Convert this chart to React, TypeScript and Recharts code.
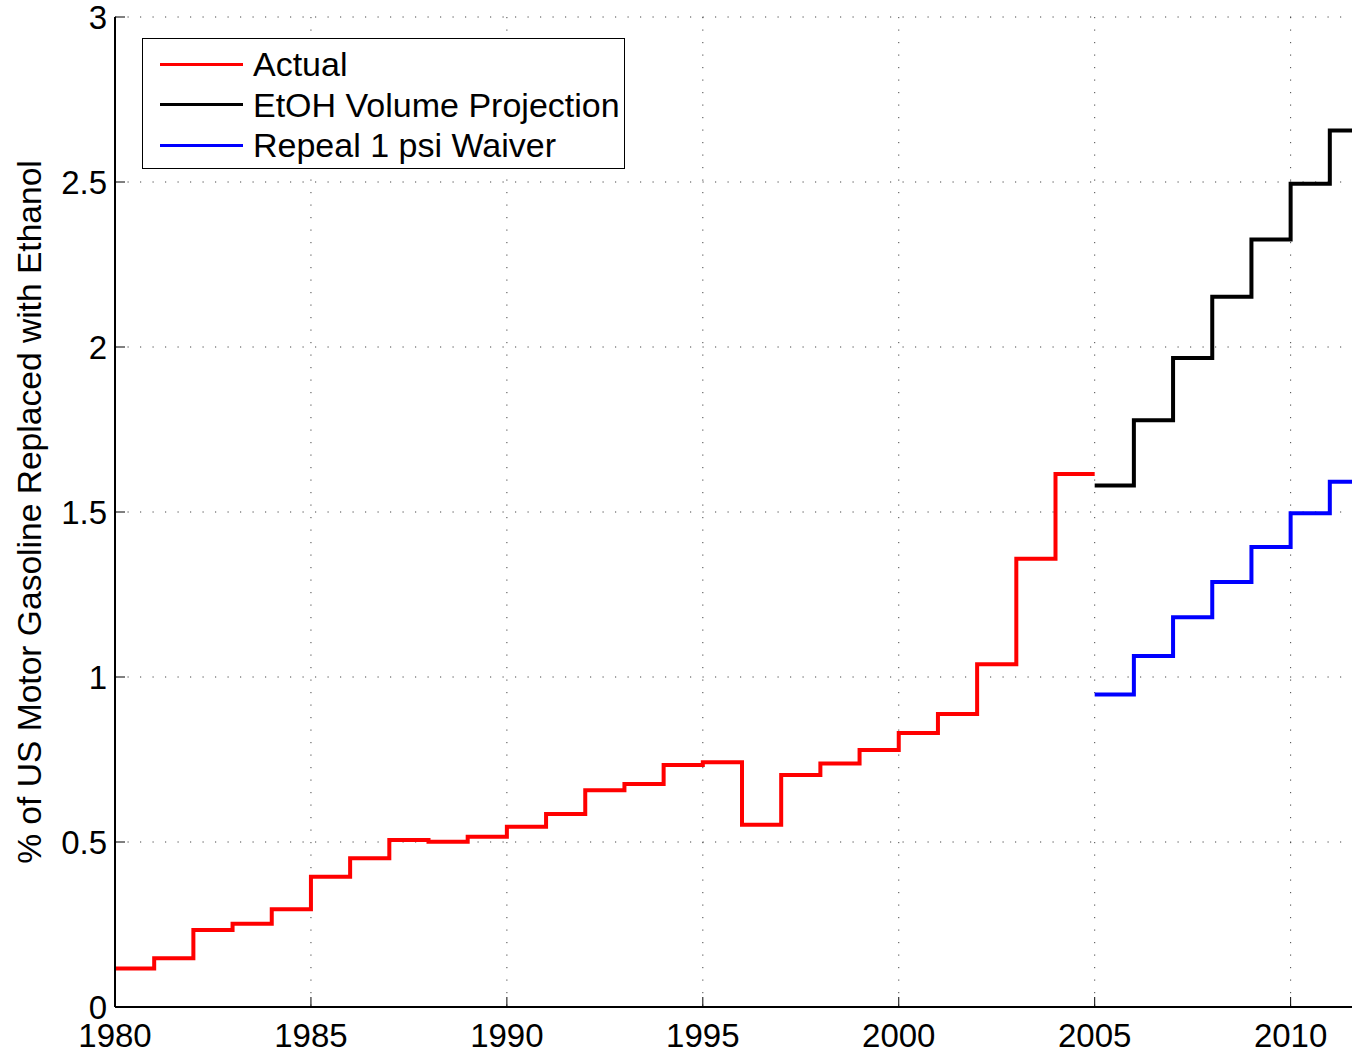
import React from 'react'
import { LineChart, Line, XAxis, YAxis, CartesianGrid, Legend } from 'recharts'

// ethanol share of US motor gasoline, percent
const actualYears = [
  1980, 1981, 1982, 1983, 1984, 1985, 1986, 1987, 1988, 1989, 1990, 1991, 1992,
  1993, 1994, 1995, 1996, 1997, 1998, 1999, 2000, 2001, 2002, 2003, 2004,
]
const actualValues = [
  0.117, 0.148, 0.233, 0.252, 0.296, 0.395, 0.451, 0.506, 0.501, 0.516, 0.546, 0.585, 0.657,
  0.676, 0.733, 0.742, 0.552, 0.703, 0.738, 0.779, 0.83, 0.888, 1.039, 1.358, 1.615,
]
const projectionYears = [2005, 2006, 2007, 2008, 2009, 2010, 2011]
const etohValues = [1.58, 1.778, 1.967, 2.152, 2.326, 2.495, 2.656]
const waiverValues = [0.947, 1.064, 1.181, 1.288, 1.394, 1.496, 1.592]

const xTicks = [1980, 1985, 1990, 1995, 2000, 2005, 2010]
const yTicks = [0, 0.5, 1, 1.5, 2, 2.5, 3]

const FONT = '"Liberation Sans", Arial, Helvetica, sans-serif'
const TICK_FS = 33
const LEGEND_FS = 34
const TITLE_FS = 33.6
const TICK_LEN = 10

// stairs: each value holds until the next year
function toSteps(years: number[], values: number[]) {
  const pts = years.map((x, i) => ({ x, y: values[i] }))
  pts.push({ x: years[years.length - 1] + 1, y: values[values.length - 1] })
  return pts
}

const actualData = toSteps(actualYears, actualValues)
const etohData = toSteps(projectionYears, etohValues)
const waiverData = toSteps(projectionYears, waiverValues)

const YTick = (props: any) => {
  const { x, y, payload } = props
  return (
    <g>
      <line x1={x + 8} x2={x + 8 + TICK_LEN} y1={y} y2={y} stroke="#000" strokeWidth={1} />
      <text x={x} y={y} textAnchor="end" dominantBaseline="central" fontFamily={FONT} fontSize={TICK_FS} fill="#000">
        {payload.value}
      </text>
    </g>
  )
}

const XTick = (props: any) => {
  const { x, y, payload } = props
  return (
    <g>
      <line x1={x} x2={x} y1={y - 14} y2={y - 14 - TICK_LEN} stroke="#000" strokeWidth={1} />
      <text x={x} y={y + 26} textAnchor="middle" fontFamily={FONT} fontSize={TICK_FS} fill="#000">
        {payload.value}
      </text>
    </g>
  )
}

const TopTick = (props: any) => {
  const { x, y } = props
  return <line x1={x} x2={x} y1={y} y2={y + TICK_LEN} stroke="#000" strokeWidth={1} />
}

const YTitle = (props: any) => {
  const vb = props.viewBox || { y: 17, height: 990 }
  const cy = vb.y + vb.height / 2
  return (
    <text
      x={41}
      y={cy}
      transform={`rotate(-90, 41, ${cy})`}
      textAnchor="middle"
      fontFamily={FONT}
      fontSize={TITLE_FS}
      fill="#000"
    >
      % of US Motor Gasoline Replaced with Ethanol
    </text>
  )
}

const renderLegend = (props: any) => {
  const { payload } = props
  return (
    <div
      style={{
        position: 'relative',
        width: 483,
        height: 131,
        boxSizing: 'border-box',
        border: '1.5px solid #000',
        background: '#fff',
        fontFamily: FONT,
        fontSize: LEGEND_FS,
      }}
    >
      {(payload || []).map((entry: any, i: number) => (
        <div key={entry.value} style={{ position: 'absolute', left: 0, top: 5 + i * 40.5, height: 40, width: '100%' }}>
          <div style={{ position: 'absolute', left: 17, top: 18.5, width: 83, height: 3, background: entry.color }} />
          <div style={{ position: 'absolute', left: 110, top: 0, lineHeight: '40px', whiteSpace: 'nowrap', color: '#000' }}>
            {entry.value}
          </div>
        </div>
      ))}
    </div>
  )
}

export default function App() {
  return (
    <div style={{ position: 'absolute', left: 0, top: 0, width: 1352, height: 1050, overflow: 'hidden', background: '#fff' }}>
      <LineChart width={1369} height={1062} margin={{ top: 17, right: 0, bottom: 0, left: 0 }}>
        <CartesianGrid stroke="#444" strokeWidth={1} strokeDasharray="1.2 11.3" />
        <XAxis
          type="number"
          dataKey="x"
          domain={[1980, 2012]}
          ticks={xTicks}
          height={55}
          tickSize={0}
          tickMargin={14}
          tick={<XTick />}
          axisLine={{ stroke: '#000', strokeWidth: 2 }}
          allowDataOverflow
        />
        <XAxis
          xAxisId="top"
          orientation="top"
          type="number"
          dataKey="x"
          domain={[1980, 2012]}
          ticks={xTicks}
          height={0}
          tickSize={0}
          tickMargin={0}
          tick={<TopTick />}
          axisLine={{ stroke: '#000', strokeWidth: 2 }}
        />
        <YAxis
          type="number"
          domain={[0, 3]}
          ticks={yTicks}
          width={115}
          tickSize={0}
          tickMargin={8}
          tick={<YTick />}
          axisLine={{ stroke: '#000', strokeWidth: 2 }}
          label={<YTitle />}
        />
        <Legend
          layout="horizontal"
          verticalAlign="middle"
          align="center"
          content={renderLegend}
          wrapperStyle={{ left: 142, top: 38, width: 483, height: 131 }}
        />
        <Line
          data={actualData}
          dataKey="y"
          name="Actual"
          type="stepAfter"
          stroke="#ff0000"
          strokeWidth={4}
          dot={false}
          activeDot={false}
          isAnimationActive={false}
        />
        <Line
          data={etohData}
          dataKey="y"
          name="EtOH Volume Projection"
          type="stepAfter"
          stroke="#000000"
          strokeWidth={4}
          dot={false}
          activeDot={false}
          isAnimationActive={false}
        />
        <Line
          data={waiverData}
          dataKey="y"
          name="Repeal 1 psi Waiver"
          type="stepAfter"
          stroke="#0000ff"
          strokeWidth={4}
          dot={false}
          activeDot={false}
          isAnimationActive={false}
        />
      </LineChart>
    </div>
  )
}
